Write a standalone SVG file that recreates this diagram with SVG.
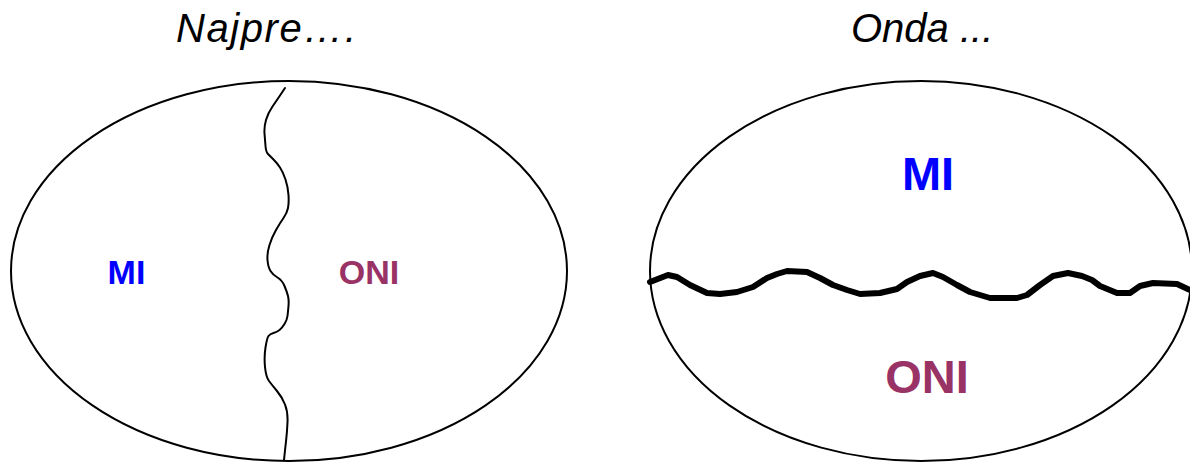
<svg xmlns="http://www.w3.org/2000/svg" width="1190" height="462" viewBox="0 0 1190 462">
<style>
.ell{fill:none;stroke:#000;stroke-width:2}
.title{font-family:"Liberation Sans",Arial,sans-serif;font-style:italic;font-size:40px;fill:#000}
.lbl{font-family:"Liberation Sans",Arial,sans-serif;font-weight:bold;text-anchor:middle}
.mi{fill:#0000FF}
.oni{fill:#993366}
.wave{fill:none;stroke:#000;stroke-linejoin:round;stroke-linecap:round}
</style>
<rect width="1190" height="462" fill="#fff"/>
<g id="left">
<text class="title" x="176" y="42" textLength="180" lengthAdjust="spacing">Najpre….</text>
<ellipse class="ell" cx="289" cy="271" rx="278" ry="190"/>
<path class="wave" stroke-width="2" d="M285,88 L281,94 Q277,100 272.5,106.5 Q268,113 266,120 Q264,127 264.5,133.5 Q265,140 265.5,146 Q266,152 268,154 Q270,156 273.5,159.5 Q277,163 280,167.5 Q283,172 285.5,179.5 Q288,187 288.5,195 Q289,203 288,208 Q287,213 283.5,218 Q280,223 276,230 Q272,237 269.5,245 Q267,253 267.5,260 Q268,267 270.5,271 Q273,275 277.5,277.5 Q282,280 284.5,286 Q287,292 288,296 Q289,300 288.5,306 Q288,312 287.5,316 Q287,320 284.5,324 Q282,328 279.5,330 Q277,332 273.5,333 Q270,334 268.5,336 Q267,338 265.5,347.5 Q264,357 265,367 Q266,377 269,381 Q272,385 277,391 Q282,397 285,404.5 Q288,412 287.5,422.5 Q287,433 286,441.5 Q285,450 284,460"/>
<text class="lbl mi" x="126.5" y="284" font-size="34">MI</text>
<text class="lbl oni" x="369" y="284" font-size="34">ONI</text>
</g>
<g id="right">
<text class="title" x="851" y="42">Onda ...</text>
<ellipse class="ell" cx="921" cy="271" rx="271" ry="190"/>
<polyline class="wave" stroke-width="6" points="650,282 668,275 677,277 690,285 707,293 720,294 737,292 753,287 767,278 777,274 787,271 807,272 820,278 833,285 847,290 860,294 880,293 897,289 907,282 920,276 933,273 943,277 957,285 970,292 990,298 1017,298 1027,295 1040,285 1053,276 1068,273 1082,276 1092,280 1100,286 1117,293 1130,293 1140,286 1153,283 1177,284 1190,290"/>
<text class="lbl mi" x="928" y="190" font-size="47">MI</text>
<text class="lbl oni" x="927" y="393" font-size="47">ONI</text>
</g>
</svg>
